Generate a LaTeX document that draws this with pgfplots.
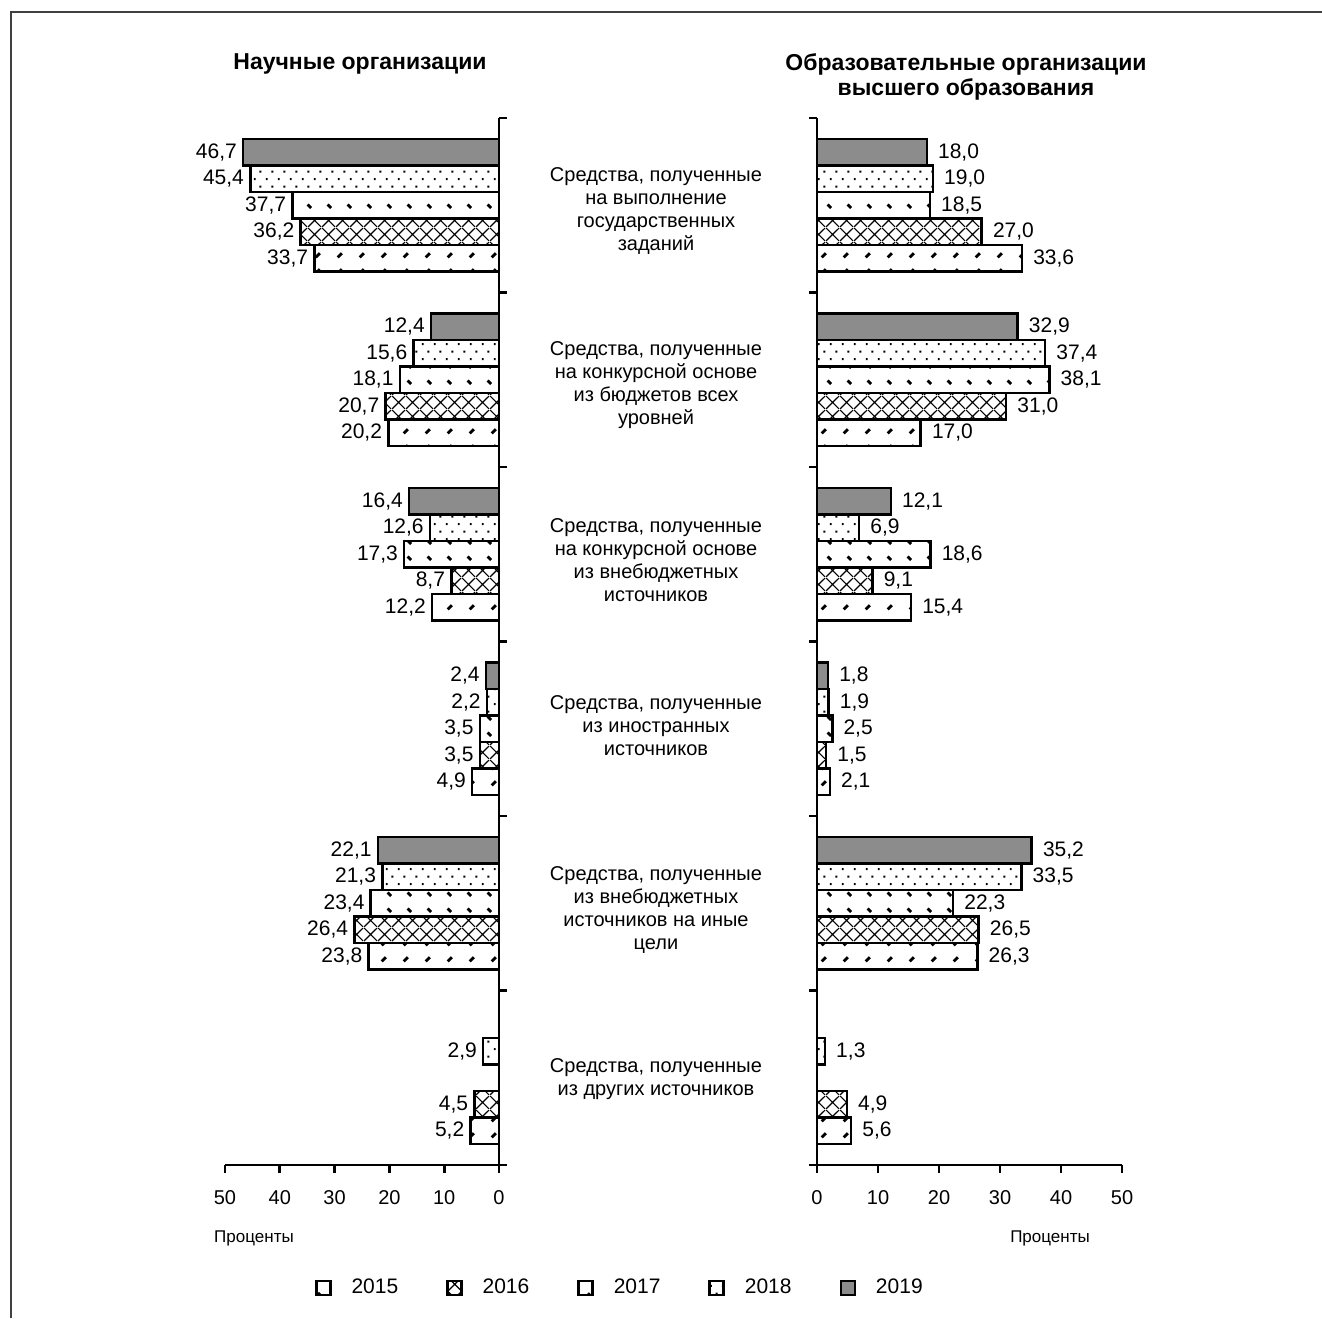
\documentclass[border=0pt]{standalone}
\usepackage{fontspec}
\setmainfont{Liberation Sans}
\usepackage{pgfplots}
\pgfplotsset{compat=1.18}
\usetikzlibrary{patterns}

\definecolor{barGray}{RGB}{140,140,140}

% fill patterns for the five years
\pgfdeclarepatternformonly{p2018}{\pgfqpoint{0pt}{0pt}}{\pgfqpoint{6pt}{7.4pt}}{\pgfqpoint{6pt}{7.4pt}}{%
  \pgfpathrectangle{\pgfqpoint{1pt}{1pt}}{\pgfqpoint{1pt}{1pt}}%
  \pgfpathrectangle{\pgfqpoint{4pt}{4.7pt}}{\pgfqpoint{1pt}{1pt}}%
  \pgfusepath{fill}}
\pgfdeclarepatternformonly{p2017}{\pgfqpoint{0pt}{0pt}}{\pgfqpoint{10pt}{8pt}}{\pgfqpoint{10pt}{8pt}}{%
  \pgfsetlinewidth{1.5pt}\pgfsetbuttcap
  \pgfpathmoveto{\pgfqpoint{4pt}{5pt}}\pgfpathlineto{\pgfqpoint{5.8pt}{3.2pt}}%
  \pgfusepath{stroke}}
\pgfdeclarepatternformonly{p2015}{\pgfqpoint{0pt}{0pt}}{\pgfqpoint{11pt}{8pt}}{\pgfqpoint{11pt}{8pt}}{%
  \pgfsetlinewidth{1.5pt}\pgfsetbuttcap
  \pgfpathmoveto{\pgfqpoint{4pt}{3pt}}\pgfpathlineto{\pgfqpoint{6.2pt}{5.2pt}}%
  \pgfusepath{stroke}}
\pgfdeclarepatternformonly{p2016}{\pgfqpoint{0pt}{0pt}}{\pgfqpoint{7pt}{7pt}}{\pgfqpoint{7pt}{7pt}}{%
  \pgfsetlinewidth{0.6pt}%
  \pgfpathmoveto{\pgfqpoint{0pt}{0pt}}\pgfpathlineto{\pgfqpoint{7pt}{7pt}}%
  \pgfpathmoveto{\pgfqpoint{0pt}{7pt}}\pgfpathlineto{\pgfqpoint{7pt}{0pt}}%
  \pgfusepath{stroke}}

\pgfplotsset{
  sq/.style={legend image code/.code={\draw[line width=1.2pt,draw=black,#1] (0pt,-3.5pt) rectangle (7pt,3.5pt);}},
  s2015/.style={draw=black, pattern=p2015, bar shift=0.304, sq={pattern=p2015}},
  s2016/.style={draw=black, pattern=p2016, bar shift=0.152, sq={pattern=p2016}},
  s2017/.style={draw=black, fill=white, bar shift=0, sq={fill=white}, postaction={pattern=p2017}},
  s2018/.style={draw=black, pattern=p2018, bar shift=-0.152, sq={pattern=p2018}},
  s2019/.style={draw=black, fill=barGray, bar shift=-0.304, sq={fill=barGray}},
  panel/.style={
    scale only axis, height=523.5pt,
    xbar, bar width=0.152,
    ymin=0, ymax=6, y dir=reverse,
    xmin=0, xmax=50, xtick={0,10,...,50},
    ytick={0,...,6}, yticklabels={},
    enlargelimits=false,
    tick align=outside, major tick length=4pt,
    axis line style={line width=1.4pt, -},
    every tick/.style={line width=1.4pt, black},
    xticklabel style={font=\fontsize{10}{11}\selectfont, yshift=-5pt},
    /pgf/number format/assume math mode=true,
    every axis plot/.append style={line width=1.3pt},
    point meta=x,
    nodes near coords={\pgfmathprintnumber[fixed,fixed zerofill,precision=1,use comma]{\pgfplotspointmeta}},
    clip=false,
  },
}

\begin{document}
\begin{tikzpicture}
\path[use as bounding box] (0,0) rectangle (661pt,-659pt);
\draw[line width=1pt, black!75] (5.5pt,-659pt) -- (5.5pt,-5.75pt) -- (661pt,-5.75pt);

% research organisations
\begin{axis}[panel,
  at={(112.5pt,-582.5pt)}, anchor=south west, width=137pt,
  x dir=reverse, axis x line*=bottom, axis y line*=right,
  nodes near coords align={anchor=east},
  every node near coord/.append style={anchor=east, xshift=-2.5pt, inner sep=0pt, font=\fontsize{10.5}{12}\selectfont},
  legend style={at={(1.445,-0.1175)}, anchor=center, draw=none, font=\fontsize{10.5}{12}\selectfont,
    legend columns=5, /tikz/every odd column/.append style={column sep=8pt},
    /tikz/every even column/.append style={column sep=22pt}},
]
\addplot[s2015] coordinates {(33.7,0.5) (20.2,1.5) (12.2,2.5) (4.9,3.5) (23.8,4.5) (5.2,5.5)};
\addplot[s2016] coordinates {(36.2,0.5) (20.7,1.5) (8.7,2.5) (3.5,3.5) (26.4,4.5) (4.5,5.5)};
\addplot[s2017] coordinates {(37.7,0.5) (18.1,1.5) (17.3,2.5) (3.5,3.5) (23.4,4.5)};
\addplot[s2018] coordinates {(45.4,0.5) (15.6,1.5) (12.6,2.5) (2.2,3.5) (21.3,4.5) (2.9,5.5)};
\addplot[s2019] coordinates {(46.7,0.5) (12.4,1.5) (16.4,2.5) (2.4,3.5) (22.1,4.5)};
\legend{2015,2016,2017,2018,2019}
\end{axis}

% higher education organisations
\begin{axis}[panel,
  at={(408.5pt,-582.5pt)}, anchor=south west, width=152.5pt,
  axis x line*=bottom, axis y line*=left,
  nodes near coords align={anchor=west},
  every node near coord/.append style={anchor=west, xshift=5pt, inner sep=0pt, font=\fontsize{10.5}{12}\selectfont},
]
\addplot[s2015] coordinates {(33.6,0.5) (17.0,1.5) (15.4,2.5) (2.1,3.5) (26.3,4.5) (5.6,5.5)};
\addplot[s2016] coordinates {(27.0,0.5) (31.0,1.5) (9.1,2.5) (1.5,3.5) (26.5,4.5) (4.9,5.5)};
\addplot[s2017] coordinates {(18.5,0.5) (38.1,1.5) (18.6,2.5) (2.5,3.5) (22.3,4.5)};
\addplot[s2018] coordinates {(19.0,0.5) (37.4,1.5) (6.9,2.5) (1.9,3.5) (33.5,4.5) (1.3,5.5)};
\addplot[s2019] coordinates {(18.0,0.5) (32.9,1.5) (12.1,2.5) (1.8,3.5) (35.2,4.5)};
\end{axis}

% titles
\node[font=\bfseries\fontsize{11.5}{12.5}\selectfont] at (180pt,-32pt) {Научные организации};
\node[font=\bfseries\fontsize{11.5}{12.5}\selectfont, align=center] at (483pt,-38.5pt)
  {Образовательные организации\\высшего образования};

% category labels
\begin{scope}[every node/.style={font=\fontsize{10}{11.5}\selectfont, align=center}]
\node at (328pt,-105.5pt) {Средства, полученные\\на выполнение\\государственных\\заданий};
\node at (328pt,-192.75pt) {Средства, полученные\\на конкурсной основе\\из бюджетов всех\\уровней};
\node at (328pt,-280pt) {Средства, полученные\\на конкурсной основе\\из внебюджетных\\источников};
\node at (328pt,-363pt) {Средства, полученные\\из иностранных\\источников};
\node at (328pt,-454.75pt) {Средства, полученные\\из внебюджетных\\источников на иные\\цели};
\node at (328pt,-539.75pt) {Средства, полученные\\из других источников};
\end{scope}

% axis units
\node[font=\fontsize{8.5}{10}\selectfont] at (127pt,-619pt) {Проценты};
\node[font=\fontsize{8.5}{10}\selectfont] at (525pt,-619pt) {Проценты};
\end{tikzpicture}
\end{document}
